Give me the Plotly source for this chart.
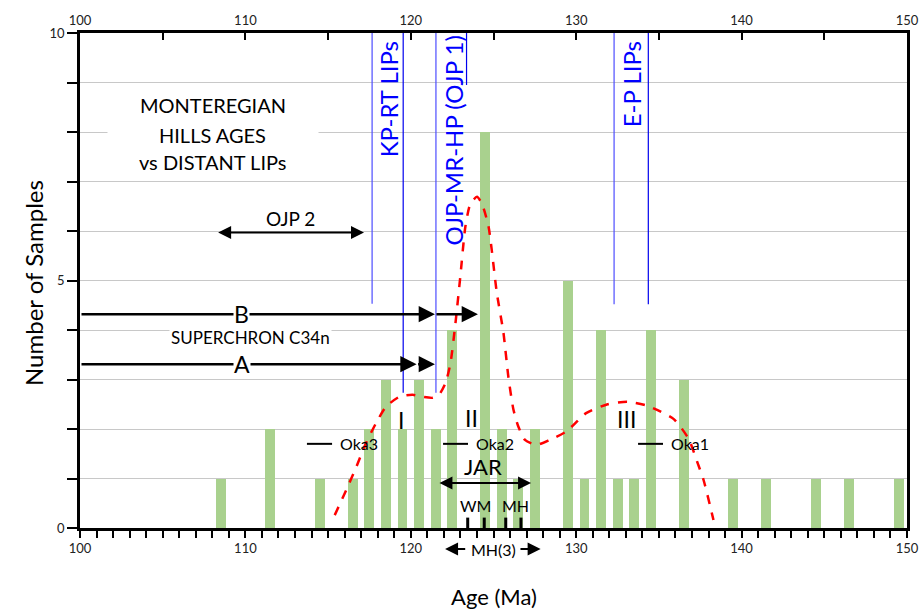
import plotly.graph_objects as go

# ---------------- data ----------------
ages = [108.5, 111.5, 114.5, 116.5, 117.5, 118.5, 119.5, 120.5, 121.5, 122.5, 124.5, 125.5, 126.5,
        127.5, 129.5, 130.5, 131.5, 132.5, 133.5, 134.5, 136.5, 139.5, 141.5, 144.5, 146.5, 149.5]
counts = [1, 2, 1, 1, 2, 3, 2, 3, 2, 4, 8, 2, 1, 2, 5, 1, 4, 1, 1, 4, 3, 1, 1, 1, 1, 1]

curve_x = [115.4, 116.1, 116.7, 117.3, 117.9, 118.5, 119.3, 120.1, 120.7, 121.3, 121.7, 122.1, 122.4,
           122.7, 123.0, 123.3, 123.6, 124.0, 124.3, 124.7, 125.2, 125.6, 125.9, 126.2, 126.5, 126.9,
           127.6, 128.4, 129.4, 130.6, 131.9, 133.1, 134.3, 135.9, 136.8, 137.3, 137.7, 138.3]
curve_y = [0.26, 0.77, 1.23, 1.72, 2.12, 2.45, 2.65, 2.69, 2.65, 2.63, 2.69, 2.93, 3.33,
           4.14, 5.1, 6.09, 6.55, 6.69, 6.55, 6.09, 4.75, 3.95, 3.05, 2.4, 2.05, 1.78,
           1.68, 1.78, 1.95, 2.32, 2.5, 2.55, 2.47, 2.2, 1.8, 1.35, 0.97, 0.16]

lip_x = [117.66, 119.54, 121.52, 123.37, 132.29, 134.36]
lip_bottom = [4.53, 2.73, 2.73, 8.95, 4.52, 4.52]
lip_colors = ['#4d4dff', '#0000ee', '#4d4dff', '#0000ee', '#4d4dff', '#0000ee']
lip_labels = ['KP-RT LIPs', 'OJP-MR-HP (OJP 1)', 'E-P LIPs']
lip_label_x = [118.62, 122.55, 133.36]
lip_label_y = [8.66, 7.83, 8.96]

oka_names = ['Oka3', 'Oka2', 'Oka1']
oka_x0 = [113.72, 121.95, 133.74]
oka_x1 = [115.24, 123.46, 135.25]
oka_y = [1.70, 1.70, 1.70]

jar_ticks_x = [123.44, 124.44, 125.74, 126.66]
jar_ticks_top = 0.21

x_ticks = list(range(100, 151))
x_ticklabels = [str(v) if v % 10 == 0 else '' for v in x_ticks]
top_ticks = list(range(100, 151, 5))
top_ticklabels = [str(v) if v % 10 == 0 else '' for v in top_ticks]
y_ticks = list(range(0, 11))
y_ticklabels = [str(v) if v % 5 == 0 else '' for v in y_ticks]

FONT = 'Lato, Carlito, Calibri, sans-serif'

fig = go.Figure()

fig.add_trace(go.Bar(x=ages, y=counts, width=0.6, marker=dict(color='#a9d18e', line=dict(width=0)),
                     showlegend=False))

fig.add_trace(go.Scatter(x=curve_x, y=curve_y, mode='lines', showlegend=False,
                         line=dict(color='#ff0000', width=2.5, dash='dash', shape='spline', smoothing=0.6)))

for xv, yb, c in zip(lip_x, lip_bottom, lip_colors):
    fig.add_trace(go.Scatter(x=[xv, xv], y=[10, yb], mode='lines', showlegend=False,
                             line=dict(color=c, width=1.2)))

for x0, x1, yv in zip(oka_x0, oka_x1, oka_y):
    fig.add_trace(go.Scatter(x=[x0, x1], y=[yv, yv], mode='lines', showlegend=False,
                             line=dict(color='black', width=2)))

tx, ty = [], []
for xv in jar_ticks_x:
    tx += [xv, xv, None]
    ty += [0, jar_ticks_top, None]
fig.add_trace(go.Scatter(x=tx, y=ty, mode='lines', showlegend=False, cliponaxis=False,
                         line=dict(color='black', width=3)))

# invisible trace for top axis
fig.add_trace(go.Scatter(x=[100, 150], y=[0, 0], xaxis='x2', mode='markers',
                         marker=dict(opacity=0), showlegend=False, hoverinfo='skip'))

# ---------------- layout geometry ----------------
W, H = 921, 611
L, T = 80, 33
R = W - 907
B = H - 528
pw, ph = W - L - R, H - T - B


def paper_x(px):
    return (px - L) / pw


def paper_y(py):
    return (H - B - py) / ph


ann = []


def text(x, y, s, size, color='black', **kw):
    d = dict(x=x, y=y, xref='x', yref='y', text=s, showarrow=False,
             font=dict(family=FONT, size=size, color=color))
    d.update(kw)
    ann.append(d)


def arrow(x_tail, x_head, y, width=2, both=False, size=1.2):
    d = dict(x=x_head, y=y, ax=x_tail, ay=y, xref='x', yref='y', axref='x', ayref='y',
             text='', showarrow=True, arrowhead=2, arrowsize=size, arrowwidth=width,
             arrowcolor='black', standoff=0, startstandoff=0)
    if both:
        d.update(arrowside='end+start', startarrowhead=2, startarrowsize=size)
    ann.append(d)


# title box
ann.append(dict(x=108.04, y=7.97, xref='x', yref='y', text='', showarrow=False,
                bgcolor='white', width=208, height=84))
text(108.04, 8.55, 'MONTEREGIAN', 20)
text(108.04, 7.94, 'HILLS AGES', 20)
text(108.04, 7.39, 'vs DISTANT LIPs', 20)

for s, xv, yv in zip(lip_labels, lip_label_x, lip_label_y):
    text(xv, yv, s, 24, color='#0000ff', textangle=-90)

# OJP 2
arrow(108.26, 117.17, 5.97, width=2, both=True, size=1.3)
text(112.7, 6.26, 'OJP 2', 19)

# B line
arrow(100, 121.46, 4.32, width=2.5, size=1.3)
arrow(121.46, 124.06, 4.32, width=2.5, size=1.3)
text(109.78, 4.32, 'B', 23, bgcolor='white', borderpad=0)
text(110.28, 3.84, 'SUPERCHRON C34n', 17, bgcolor='white', borderpad=1)
# A line
arrow(100, 120.35, 3.31, width=2.5, size=1.3)
arrow(120.35, 121.46, 3.31, width=2.5, size=1.3)
text(109.8, 3.31, 'A', 23, bgcolor='white', borderpad=0)

# roman numerals
text(119.41, 2.18, 'I', 23)
text(123.64, 2.22, 'II', 23)
text(133.07, 2.2, 'III', 23)

# Oka labels
for s, x1, yv in zip(oka_names, oka_x1, oka_y):
    text(x1 + 0.35, yv, s, 16, xanchor='left')

# JAR
arrow(121.64, 127.27, 0.91, width=2, both=True, size=1.3)
text(124.37, 1.24, 'JAR', 22)
text(123.94, 0.46, 'WM', 16)
text(126.3, 0.46, 'MH', 16)

# MH(3) below the axis (paper y, data x)
mh_y = paper_y(549)
for xt, xh in [(123.38, 122.07), (126.54, 127.85)]:
    ann.append(dict(x=xh, y=mh_y, ax=xt, ay=0, xref='x', yref='paper', axref='x', ayref='pixel',
                    text='', showarrow=True, arrowhead=2, arrowsize=1.3, arrowwidth=2,
                    arrowcolor='black', standoff=0, startstandoff=0))
ann.append(dict(x=124.97, y=mh_y, xref='x', yref='paper', text='MH(3)', showarrow=False,
                xanchor='center', yanchor='middle', font=dict(family=FONT, size=16, color='black')))

ann.append(dict(x=paper_x(33), y=paper_y(283), xref='paper', yref='paper', text='Number of Samples',
                showarrow=False, textangle=-90, xanchor='center', yanchor='middle',
                font=dict(family=FONT, size=24, color='black')))
ann.append(dict(x=paper_x(494), y=paper_y(596), xref='paper', yref='paper', text='Age (Ma)',
                showarrow=False, xanchor='center', yanchor='middle',
                font=dict(family=FONT, size=22, color='black')))

fig.update_layout(
    width=W, height=H,
    margin=dict(l=L, r=R, t=T, b=B, pad=0),
    plot_bgcolor='white', paper_bgcolor='white',
    font=dict(family=FONT, size=12, color='#222'),
    bargap=0,
    annotations=ann,
    xaxis=dict(range=[100, 150], tickmode='array', tickvals=x_ticks, ticktext=x_ticklabels,
               ticks='outside', ticklen=7, tickwidth=1.5, tickcolor='black', automargin=False,
               showline=True, linecolor='black', linewidth=2.5, showgrid=False, zeroline=False,
               tickfont=dict(size=13, family=FONT, color='#222')),
    xaxis2=dict(range=[100, 150], overlaying='x', side='top', tickmode='array', tickvals=top_ticks,
                ticktext=top_ticklabels, ticks='inside', ticklen=7, tickwidth=1.5, tickcolor='black',
                showline=True, linecolor='black', linewidth=2.5, showgrid=False, zeroline=False,
                automargin=False, tickfont=dict(size=13, family=FONT, color='#222')),
    yaxis=dict(range=[0, 10], tickmode='array', tickvals=y_ticks, ticktext=y_ticklabels,
               ticks='outside', ticklen=10, tickwidth=1.5, tickcolor='black', automargin=False,
               showline=True, linecolor='black', linewidth=2.5, mirror=True,
               showgrid=True, gridcolor='#c8c8c8', gridwidth=1, zeroline=False,
               tickfont=dict(size=13, family=FONT, color='#222')),
)

fig.write_html('out.html', config={'displayModeBar': False},
               post_script="document.body.style.margin='0';document.body.style.overflow='hidden';")
